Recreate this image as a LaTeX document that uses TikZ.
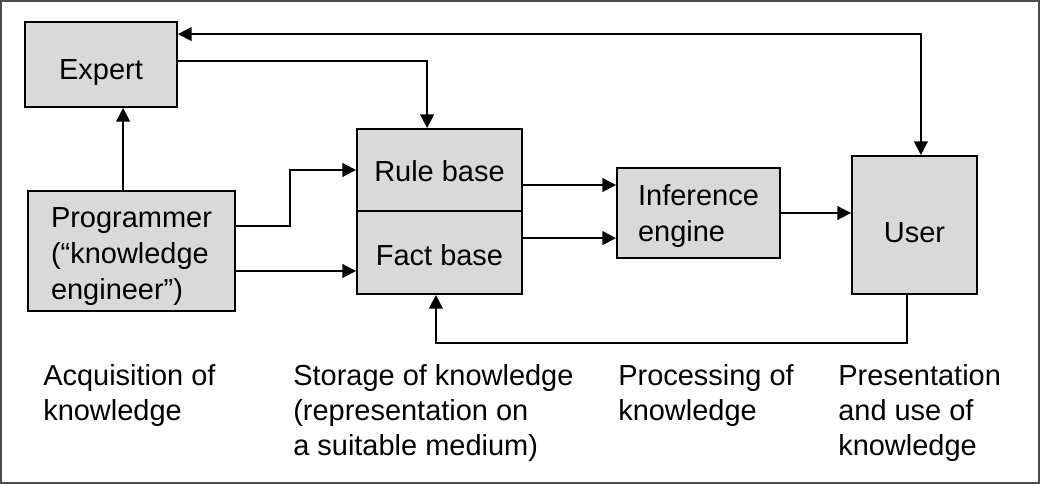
\documentclass[tikz,border=0pt]{standalone}
\usepackage{fontspec}
\setmainfont{Liberation Sans}
\usetikzlibrary{arrows.meta}

\begin{document}
\begin{tikzpicture}[x=0.025cm, y=-0.025cm, >={Triangle[length=0.34cm, width=0.34cm]},
    box/.style={draw, line width=1.3pt, fill=boxgray, inner sep=0pt, align=left,
        font=\fontsize{20.6}{25.6}\selectfont},
    lowered/.style={text depth=0pt, text height=#1},
    conn/.style={->, line width=1.3pt},
    caption/.style={anchor=north west, inner sep=0pt, align=left,
        font=\fontsize{20.6}{24.9}\selectfont}]
    \definecolor{boxgray}{HTML}{D9D9D9}
    % Rahmen
    \useasboundingbox (0,0) rectangle (1040,484);
    \draw[line width=0.9pt, black!70] (1,1) rectangle (1039,483);

    % Kästen
    \node[box, lowered=0.74cm, minimum width=3.8cm, minimum height=2.125cm] (expert) at (101,64.5) {Expert};
    \node[box, minimum width=5.175cm, minimum height=3cm] (programmer) at (131.5,251)
        {\rule{0pt}{0.77cm}Programmer\\(“knowledge\\engineer”)};
    \node[box, lowered=0.6cm, minimum width=4.125cm, minimum height=2.05cm] (rulebase) at (439.5,170) {Rule base};
    \node[box, lowered=0.625cm, minimum width=4.125cm, minimum height=2.075cm] (factbase) at (439.5,252.5) {Fact base};
    \node[box, minimum width=4.075cm, minimum height=2.25cm] (inference) at (698.5,213)
        {\rule{0pt}{0.7cm}Inference\\engine};
    \node[box, lowered=0.85cm, minimum width=3.125cm, minimum height=3.45cm] (user) at (914.5,225) {User};

    % Verbindungen
    \draw[conn] ([xshift=-0.21cm]programmer.north) coordinate (p0) -- (p0 |- expert.south);
    \draw[conn] ([yshift=0.09cm]expert.east) -| ([xshift=-0.31cm]rulebase.north);
    \draw[conn, <->] ([yshift=0.76cm]expert.east) -| ([xshift=0.16cm]user.north);
    \draw[conn] ([yshift=0.62cm]programmer.east) -- ++(1.35cm,0) |- (rulebase.west);
    \draw[conn] ([yshift=-0.5cm]programmer.east) coordinate (p1) -- (p1 -| factbase.west);
    \draw[conn] ([yshift=-0.375cm]rulebase.east) coordinate (r1) -- (r1 -| inference.west);
    \draw[conn] ([yshift=0.36cm]factbase.east) coordinate (f1) -- (f1 -| inference.west);
    \draw[conn] (inference.east) -- (inference.east -| user.west);
    \draw[conn] ([xshift=-0.19cm]user.south) -- ++(0,-1.2cm) -| ([xshift=-0.09cm]factbase.south);

    % Beschriftungen unten
    \node[caption] (acquisition) at (43,364) {Acquisition of\\knowledge};
    \node[caption] (storage) at (293,364) {Storage of knowledge\\(representation on\\a suitable medium)};
    \node[caption] (processing) at (618,364) {Processing of\\knowledge};
    \node[caption] (presentation) at (838,364) {Presentation\\and use of\\knowledge};
\end{tikzpicture}
\end{document}
